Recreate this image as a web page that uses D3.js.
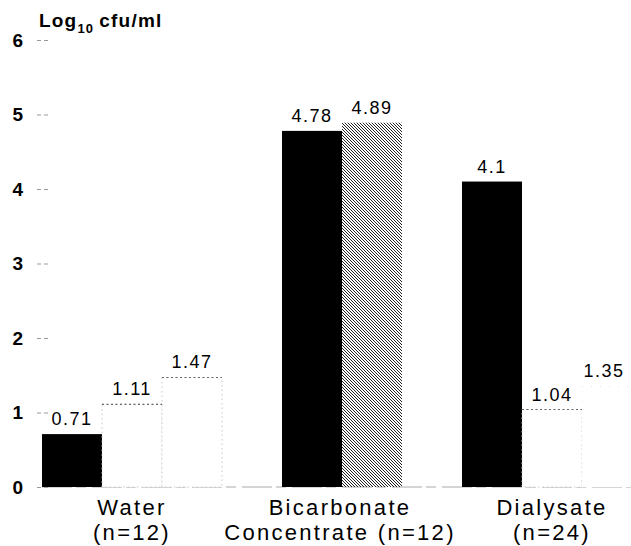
<!DOCTYPE html>
<html>
<head>
<meta charset="utf-8">
<script src="https://cdn.jsdelivr.net/npm/d3@7"></script>
<style>
  body { margin: 0; background: #fff; }
  text { font-family: "Liberation Sans", Arial, sans-serif; fill: #000; }
</style>
</head>
<body>
<div id="chart"></div>
<script>
// data
const categories = ["Water", "Bicarbonate Concentrate", "Dialysate"];
const categoryLines = [["Water", "(n=12)"], ["Bicarbonate", "Concentrate (n=12)"], ["Dialysate", "(n=24)"]];
const series1 = [0.71, 4.78, 4.1];
const series2 = [1.11, 4.89, 1.04];
const series3 = [1.47, null, 1.35];
const yTicks = [0, 1, 2, 3, 4, 5, 6];

const width = 631, height = 546;

const svg = d3.select("#chart").append("svg")
  .attr("width", width)
  .attr("height", height);

// hatch for the second bicarbonate bar
const defs = svg.append("defs");
defs.append("pattern")
  .attr("id", "hatch")
  .attr("patternUnits", "userSpaceOnUse")
  .attr("width", 3).attr("height", 3)
  .append("path")
  .attr("d", "M-1,-1 L4,4 M-1,2 L1,4 M2,-1 L4,1")
  .attr("stroke", "#222")
  .attr("stroke-width", 1);

const yScale = d3.scaleLinear().domain([0, 6]).range([487, 40]);

// ten bar slots of 60px; groups start at slot 0, 4 and 7
const groupStart = [0, 4, 7];
const xScale = d3.scaleBand().domain(d3.range(10)).range([42, 642]).padding(0);

const bars = [];
[series1, series2, series3].forEach((vals, s) => {
  vals.forEach((v, c) => {
    if (v == null) return;
    bars.push({ cat: c, s: s, value: v, slot: groupStart[c] + s });
  });
});

function barStyle(d) {
  if (d.s === 0) return "solid";
  if (d.s === 1 && d.cat === 1) return "hatch";
  if (d.s === 2 && d.cat === 2) return "faint";
  return "dotted";
}

// y axis: short grey dashes, no domain line
const yAxis = d3.axisLeft(yScale).tickValues(yTicks).tickFormat(d3.format("d"))
  .tickSize(14).tickPadding(11);
const gy = svg.append("g").attr("transform", "translate(48,0)").call(yAxis);
gy.select(".domain").remove();
gy.selectAll(".tick line").attr("stroke", "#999").attr("stroke-dasharray", "4,3");
gy.selectAll(".tick text")
  .style("font-family", "'Liberation Sans', Arial, sans-serif")
  .style("font-size", "19px")
  .style("font-weight", "bold")
  .attr("fill", "#000");

// zero line
svg.append("line")
  .attr("x1", 42).attr("x2", width)
  .attr("y1", yScale(0)).attr("y2", yScale(0))
  .attr("stroke", "#aaa")
  .attr("stroke-dasharray", "30,4,10,6");

const g = svg.append("g");

g.selectAll("rect.bar")
  .data(bars)
  .join("rect")
  .attr("class", "bar")
  .attr("x", d => xScale(d.slot))
  .attr("width", xScale.bandwidth())
  .attr("y", d => yScale(d.value))
  .attr("height", d => yScale(0) - yScale(d.value))
  .attr("fill", d => {
    const st = barStyle(d);
    if (st === "solid") return "#000";
    if (st === "hatch") return "url(#hatch)";
    return "#fff";
  })
  .attr("stroke", d => {
    const st = barStyle(d);
    if (st === "dotted") return "#c8c8c8";
    if (st === "faint") return "#e4e4e4";
    return "none";
  })
  .attr("stroke-dasharray", d => barStyle(d) === "faint" ? "1,8" : "1.5,3");

// dotted tops of the open bars
g.selectAll("line.top")
  .data(bars.filter(d => barStyle(d) === "dotted"))
  .join("line")
  .attr("class", "top")
  .attr("x1", d => xScale(d.slot))
  .attr("x2", d => xScale(d.slot) + xScale.bandwidth())
  .attr("y1", d => yScale(d.value))
  .attr("y2", d => yScale(d.value))
  .attr("stroke", "#666")
  .attr("stroke-width", 1.2)
  .attr("stroke-dasharray", "2,2.5");

// value labels
g.selectAll("text.val")
  .data(bars)
  .join("text")
  .attr("class", "val")
  .attr("x", d => Math.min(xScale(d.slot) + xScale.bandwidth() / 2, width - 27))
  .attr("y", d => yScale(d.value) - 9)
  .attr("text-anchor", "middle")
  .style("font-size", "18px")
  .style("letter-spacing", "1.5px")
  .text(d => d.value);

// category labels
const labelX = [132, 340, 552];
categoryLines.forEach((lines, i) => {
  const t = svg.append("text")
    .attr("text-anchor", "middle")
    .style("font-size", "22px")
    .style("letter-spacing", "2.3px");
  lines.forEach((ln, j) => {
    t.append("tspan")
      .attr("x", labelX[i])
      .attr("y", 515 + j * 25)
      .text(ln);
  });
});

// y axis title
const title = svg.append("text")
  .attr("x", 39).attr("y", 27)
  .style("font-size", "19px")
  .style("font-weight", "bold")
  .style("letter-spacing", "1.2px");
title.append("tspan").text("Log");
title.append("tspan").attr("dy", 6).style("font-size", "13px").text("10");
title.append("tspan").attr("dy", -6).attr("dx", 5).text("cfu/ml");
</script>
</body>
</html>
